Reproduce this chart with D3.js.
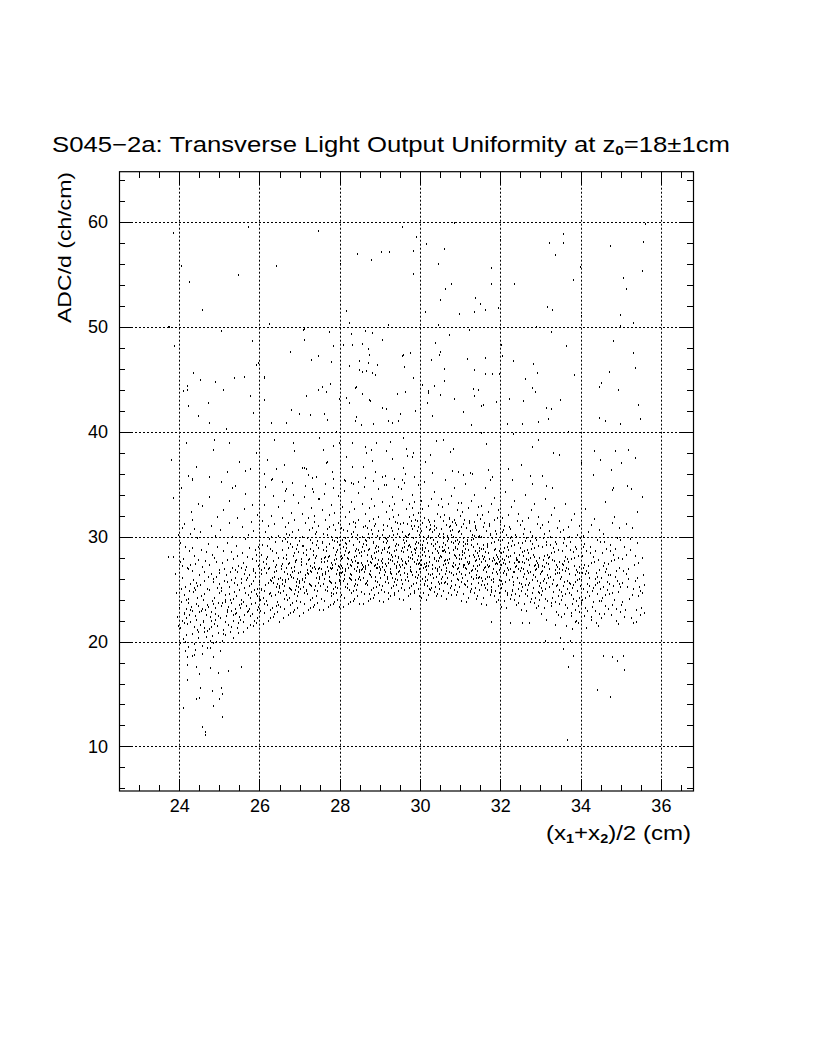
<!DOCTYPE html>
<html><head><meta charset="utf-8">
<script src="https://cdn.jsdelivr.net/npm/d3@7"></script>
<style>body{margin:0;background:#fff}text{font-family:"Liberation Sans",Arial,sans-serif;fill:#000}</style>
</head><body>
<svg id="c" width="816" height="1056"></svg>
<script>
// ---- axis / tick data ----
const xMajorTicks = [24, 26, 28, 30, 32, 34, 36];
const xTickLabels = ["24", "26", "28", "30", "32", "34", "36"];
const yMajorTicks = [10, 20, 30, 40, 50, 60];
const yTickLabels = ["10", "20", "30", "40", "50", "60"];
const xDomain = [22.5, 36.8];
const yDomain = [5.75, 64.8];

// ---- scatter data, flat x,y pairs ----
const highOutliers = [23.84,58.92,25.72,59.52,24.05,55.83,24.25,54.31,25.47,54.92,24.57,51.64,23.71,49.99,23.74,50.0,23.87,48.15,25.05,49.58,25.82,48.62,24.34,45.63,24.53,44.9,24.9,44.71,25.1,43.95,25.37,45.09,25.62,45.22,25.92,46.36,25.97,46.55,26.12,45.19,25.77,43.38,24.71,42.74,24.1,43.9,24.2,44.0,24.2,44.4,26.1,43.0,27.46,59.1,26.41,55.8,28.0,55.97,28.42,56.92,28.77,56.35,29.03,57.1,29.22,57.1,29.56,59.5,28.15,51.5,26.24,50.24,28.24,50.34,29.21,50.2,27.12,49.8,27.09,49.67,27.74,49.51,28.62,49.58,28.8,49.39,28.28,49.29,27.12,48.72,27.84,48.15,28.09,48.27,28.31,48.27,28.56,48.39,28.71,47.92,29.06,48.72,26.77,47.63,27.46,47.25,28.74,47.35,29.56,47.25,27.28,46.81,27.79,46.68,28.49,46.72,28.71,46.55,28.93,46.39,28.23,46.3,29.6,46.14,28.48,45.89,28.55,45.7,28.66,45.79,28.81,45.57,28.89,45.41,26.11,45.15,27.75,44.58,27.56,44.24,27.46,43.95,27.66,43.79,28.37,44.17,28.4,44.27,28.56,43.57,29.43,43.57,29.62,43.79,27.15,43.4,28.16,43.24,28.74,43.0,28.24,42.74,27.97,43.09,30.85,59.93,35.61,59.81,29.91,58.57,30.15,57.87,30.6,57.4,29.83,57.24,31.99,58.26,33.21,57.97,33.55,57.97,33.57,58.83,33.37,56.85,34.74,57.68,35.55,58.06,30.45,55.97,31.77,55.64,33.98,55.71,29.83,55.01,35.53,55.33,33.82,54.44,35.06,54.69,30.63,53.61,30.78,54.06,31.77,54.06,32.33,54.06,35.12,53.64,30.5,52.53,31.37,52.78,31.49,52.15,31.62,51.64,31.93,51.8,33.17,51.89,33.29,51.58,30.13,51.39,30.98,51.2,31.34,51.39,34.0,51.07,34.99,51.13,35.31,50.34,34.98,50.08,30.44,50.18,32.9,50.02,31.22,49.67,33.25,49.48,30.72,49.19,30.38,48.49,33.63,48.15,34.81,48.65,32.01,48.27,29.75,47.48,29.57,47.29,30.5,47.63,30.46,47.29,32.05,47.22,35.31,47.51,30.28,46.81,31.16,46.91,31.62,47.0,32.32,46.72,29.61,46.17,30.6,46.01,31.34,45.86,31.63,45.48,31.8,45.48,31.96,45.48,32.82,46.43,32.92,45.57,33.84,45.44,35.35,46.05,34.71,45.67,29.83,45.15,30.6,44.84,30.05,44.46,30.35,44.36,32.62,45.03,34.5,44.62,34.46,44.27,31.31,44.05,31.44,43.98,30.2,43.9,30.2,43.7,30.49,43.5,31.35,43.4,32.78,44.2,32.86,43.79,34.92,43.98,30.84,43.09,32.22,43.15,32.57,42.93,33.48,43.05,31.9,42.86,30.18,42.71,31.57,42.52,35.43,42.52];

const midOutliers = [24.22,42.45,24.72,42.71,24.46,41.5,24.75,40.86,25.83,41.81,26.78,42.07,26.98,41.66,27.26,41.57,27.6,41.66,26.65,40.8,27.69,41.12,28.39,41.05,28.41,41.43,28.52,40.64,28.75,42.93,28.23,42.71,29.06,42.23,29.14,42.14,29.5,41.66,26.28,40.86,28.83,40.71,29.21,41.02,29.31,40.8,29.46,41.02,25.16,40.23,27.91,39.97,27.98,38.9,24.18,38.89,24.87,39.2,25.24,38.9,24.85,38.26,26.37,39.2,26.83,38.9,26.85,38.16,27.48,39.43,27.58,38.26,27.82,38.64,28.31,38.9,28.64,38.57,28.9,38.9,28.77,38.26,29.25,39.02,29.57,39.37,23.8,37.3,23.85,33.65,23.72,28.05,24.42,36.66,24.33,35.49,24.31,35.39,24.74,35.71,25.32,34.6,25.39,34.85,25.2,36.19,25.49,37.14,25.65,36.28,25.76,36.44,25.92,38.0,26.18,37.3,26.29,35.39,26.42,36.42,26.57,35.23,26.66,34.51,27.05,36.51,27.11,36.51,27.2,35.84,27.3,34.51,27.42,35.71,27.48,33.61,27.69,37.14,27.84,35.52,28.1,35.39,28.28,35.08,28.45,35.23,28.58,36.66,28.89,36.19,29.14,34.92,29.06,35.71,29.36,35.52,29.56,35.39,29.52,34.51,29.58,36.51,30.29,41.53,31.06,41.91,31.27,40.64,32.17,40.7,32.53,40.7,32.94,40.96,33.18,41.18,31.53,42.45,33.13,42.23,33.25,42.14,34.46,41.27,34.62,41.05,34.98,40.74,35.48,41.18,35.42,42.55,29.87,41.98,29.58,39.37,30.4,39.11,30.58,39.2,30.83,38.35,31.52,39.85,31.65,38.8,32.32,39.76,32.78,38.57,32.93,39.2,33.32,37.94,33.46,37.78,33.68,39.94,34.34,38.16,34.48,37.3,34.86,38.16,35.0,36.99,35.17,38.26,35.36,37.52,29.83,37.94,29.67,37.69,30.12,37.14,30.94,36.19,31.08,35.87,31.24,36.1,31.7,36.35,31.74,35.39,32.2,36.42,32.74,35.78,32.51,36.83,33.03,35.78,33.15,34.82,34.02,36.99,34.3,35.87,34.75,36.35,34.77,34.44,34.81,34.6,35.15,34.85,35.25,34.51,35.52,33.8,35.4,32.37,34.62,33.33];

const lowOutliers = [24.14,19.12,24.2,18.54,24.32,18.61,24.37,18.71,24.57,18.8,24.76,19.37,25.01,19.12,24.85,18.49,24.2,17.75,24.42,17.53,24.76,17.44,24.96,16.96,25.21,17.18,25.54,17.53,24.49,16.87,24.2,16.32,24.52,15.53,24.81,15.27,25.03,15.53,24.49,14.58,24.42,14.51,24.99,14.54,25.07,14.96,24.09,13.62,24.85,13.87,25.06,12.77,24.56,11.81,24.64,11.34,24.64,11.08,33.57,19.28,33.8,18.64,33.68,17.53,34.56,18.58,34.79,18.49,34.91,18.13,35.06,18.64,35.09,17.28,34.41,15.37,34.72,14.67,33.67,10.6,33.11,20.04,33.48,20.3,33.73,20.1,29.75,23.07,31.76,21.9,32.24,21.76,32.54,21.8,32.71,21.8];

const bandA = [23.85,28.1,23.92,24.6,23.95,22.3,23.97,30.2,23.9,26.4,23.96,21.5,
24.02,21.3,24.05,23.8,24.08,26.1,24.03,29.4,24.12,22.7,24.15,25.2,24.1,27.9,24.18,20.6,24.21,24.1,24.24,28.6,24.06,30.8,24.27,21.9,24.3,23.3,24.33,26.7,24.36,19.8,24.39,22.4,24.42,25.6,24.45,29.9,24.48,20.9,24.04,25.0,24.07,22.0,24.13,31.2,24.16,23.1,24.19,27.0,24.22,19.5,24.25,24.8,24.28,30.3,24.31,22.9,24.34,25.9,24.37,21.4,24.4,27.4,24.43,23.6,24.46,20.3,24.49,26.3,24.01,27.6,24.09,20.2,24.11,24.4,24.14,29.0,24.2,21.7,24.23,26.9,24.26,23.0,24.29,32.4,24.32,20.7,24.35,24.7,24.38,28.2,24.41,22.1,24.44,25.3,24.47,33.1,24.0,23.2,24.06,27.2,24.17,24.0,24.24,22.5,24.31,28.9,24.39,24.9,24.46,23.4,24.12,21.8,24.28,25.5,24.36,30.7,24.44,21.1,24.05,34.6,24.21,35.8,24.33,31.6,24.47,27.8,24.03,19.9,24.18,22.2,24.26,27.3,24.4,19.2,24.15,20.0,24.49,22.8,
24.51,21.6,24.54,24.3,24.57,27.1,24.6,22.0,24.63,25.8,24.66,20.4,24.69,23.5,24.72,29.3,24.75,21.2,24.78,26.4,24.81,23.9,24.84,19.9,24.87,28.0,24.9,22.6,24.93,25.1,24.96,20.8,24.99,24.6,24.52,30.4,24.55,22.9,24.58,19.6,24.61,26.6,24.64,23.0,24.67,28.5,24.7,21.0,24.73,24.9,24.76,22.3,24.79,31.0,24.82,20.5,24.85,25.7,24.88,23.2,24.91,27.6,24.94,21.5,24.97,23.7,24.53,25.4,24.59,21.9,24.65,27.7,24.71,23.3,24.77,20.1,24.83,26.0,24.89,22.1,24.95,29.0,24.56,23.1,24.62,20.9,24.68,25.0,24.74,27.3,24.8,22.8,24.86,24.2,24.92,20.0,24.98,26.8,24.54,28.7,24.6,24.0,24.66,22.5,24.72,26.2,24.78,21.4,24.84,23.6,24.9,30.1,24.96,22.4,24.57,32.9,24.75,33.8,24.93,31.9,24.63,21.3,24.81,28.3,24.69,19.4,24.87,21.7,24.99,25.5,
25.01,22.2,25.04,25.1,25.07,27.5,25.1,20.7,25.13,23.8,25.16,26.3,25.19,29.4,25.22,21.6,25.25,24.5,25.28,22.9,25.31,27.0,25.34,20.3,25.37,25.6,25.4,23.1,25.43,28.2,25.46,21.8,25.49,24.9,25.02,30.6,25.05,23.4,25.08,21.1,25.11,26.9,25.14,24.0,25.17,22.4,25.2,27.8,25.23,25.2,25.26,20.9,25.29,23.7,25.32,30.0,25.35,22.0,25.38,26.1,25.41,24.3,25.44,21.3,25.47,27.2,25.03,24.8,25.09,28.6,25.15,21.9,25.21,23.3,25.27,26.6,25.33,24.1,25.39,22.6,25.45,25.4,25.06,20.1,25.12,25.8,25.18,23.0,25.24,31.3,25.3,21.4,25.36,24.7,25.42,29.1,25.48,22.3,25.0,26.5,25.1,32.5,25.2,22.8,25.3,28.5,25.4,26.8,25.5,23.5,25.05,35.2,25.25,33.4,25.45,31.8,25.15,24.4,25.35,27.9,25.13,20.6,25.41,22.7,25.28,25.9,25.47,20.8,
25.51,23.2,25.54,26.0,25.57,28.4,25.6,21.9,25.63,24.6,25.66,27.1,25.69,22.8,25.72,30.2,25.75,25.3,25.78,23.6,25.81,27.9,25.84,21.5,25.87,24.9,25.9,26.5,25.93,23.0,25.96,29.0,25.99,25.7,25.52,22.1,25.55,24.0,25.58,27.5,25.61,25.1,25.64,29.8,25.67,23.4,25.7,21.3,25.73,26.3,25.76,24.2,25.79,31.4,25.82,22.6,25.85,25.8,25.88,28.7,25.91,24.5,25.94,22.2,25.97,27.2,25.53,25.6,25.59,23.8,25.65,26.8,25.71,24.4,25.77,22.4,25.83,26.7,25.89,23.7,25.95,25.0,25.56,30.9,25.62,22.5,25.68,28.1,25.74,23.1,25.8,25.5,25.86,22.0,25.92,27.7,25.98,24.1,25.55,27.0,25.61,32.6,25.67,25.9,25.73,28.9,25.79,24.7,25.85,30.5,25.91,21.8,25.97,23.3,25.63,34.1,25.81,33.0,25.95,32.1,25.7,26.1,25.88,26.2,25.58,20.9,25.76,21.6,25.93,24.3,
26.01,24.0,26.04,26.8,26.07,29.2,26.1,22.7,26.13,25.4,26.16,27.9,26.19,23.5,26.22,31.0,26.25,25.9,26.28,24.3,26.31,28.6,26.34,22.3,26.37,26.2,26.4,27.3,26.43,23.8,26.46,30.1,26.49,25.1,26.02,22.9,26.05,25.0,26.08,27.6,26.11,24.8,26.14,30.4,26.17,23.9,26.2,22.0,26.23,27.0,26.26,24.6,26.29,32.0,26.32,23.2,26.35,26.6,26.38,29.5,26.41,25.2,26.44,22.8,26.47,28.0,26.03,26.4,26.09,24.2,26.15,27.4,26.21,25.6,26.27,23.0,26.33,27.7,26.39,24.4,26.45,26.0,26.06,31.5,26.12,23.6,26.18,29.1,26.24,24.5,26.3,26.1,26.36,22.6,26.42,28.4,26.48,25.3,26.05,28.3,26.11,33.0,26.17,26.5,26.23,29.8,26.29,25.8,26.35,31.2,26.41,23.4,26.47,24.7,26.13,34.7,26.31,35.5,26.45,32.8,26.2,26.9,26.38,27.1,26.08,21.7,26.26,22.2,26.43,25.5,26.1,36.0,26.34,33.9,26.48,21.9,26.27,28.8,
26.51,24.6,26.54,27.2,26.57,29.6,26.6,23.1,26.63,25.9,26.66,28.3,26.69,24.0,26.72,31.3,26.75,26.3,26.78,24.9,26.81,29.0,26.84,22.8,26.87,26.7,26.9,27.8,26.93,24.3,26.96,30.6,26.99,25.6,26.52,23.3,26.55,25.5,26.58,28.0,26.61,25.3,26.64,30.9,26.67,24.4,26.7,22.5,26.73,27.5,26.76,25.0,26.79,32.3,26.82,23.7,26.85,27.1,26.88,29.9,26.91,25.7,26.94,23.2,26.97,28.5,26.53,26.9,26.59,24.8,26.65,27.9,26.71,26.0,26.77,23.5,26.83,28.2,26.89,24.9,26.95,26.5,26.56,31.8,26.62,24.1,26.68,29.5,26.74,25.1,26.8,26.6,26.86,23.0,26.92,28.8,26.98,25.8,26.55,28.7,26.61,33.4,26.67,27.0,26.73,30.2,26.79,26.2,26.85,31.6,26.91,23.9,26.97,25.2,26.63,34.4,26.81,35.1,26.95,33.2,26.7,27.4,26.88,27.6,26.58,22.2,26.76,22.7,26.93,26.0,26.6,36.8,26.84,34.0,26.98,22.4,26.77,29.3,26.52,26.1,26.69,26.4,26.87,24.5,26.94,29.2,26.64,25.7,26.82,30.4];

const bandB = [27.01,25.0,27.04,27.6,27.07,30.0,27.1,23.6,27.13,26.3,27.16,28.7,27.19,24.5,27.22,31.8,27.25,26.7,27.28,25.3,27.31,29.4,27.34,23.3,27.37,27.1,27.4,28.2,27.43,24.8,27.46,31.0,27.49,26.0,27.02,23.8,27.05,26.0,27.08,28.4,27.11,25.7,27.14,31.3,27.17,24.9,27.2,23.0,27.23,27.9,27.26,25.4,27.29,32.7,27.32,24.2,27.35,27.5,27.38,30.3,27.41,26.1,27.44,23.7,27.47,28.9,27.03,27.3,27.09,25.2,27.15,28.3,27.21,26.4,27.27,24.0,27.33,28.6,27.39,25.3,27.45,26.9,27.06,32.2,27.12,24.6,27.18,29.9,27.24,25.5,27.3,27.0,27.36,23.5,27.42,29.2,27.48,26.2,27.05,29.1,27.11,33.8,27.17,27.4,27.23,30.6,27.29,26.6,27.35,32.0,27.41,24.3,27.47,25.6,27.13,34.8,27.31,35.6,27.45,33.6,27.2,27.8,27.38,28.0,27.08,22.7,27.26,23.2,27.43,26.5,27.16,36.5,27.34,34.3,27.48,23.0,27.27,29.7,27.02,26.6,27.19,26.8,27.37,24.9,27.44,29.6,27.14,26.1,27.32,30.8,
27.51,25.3,27.54,27.9,27.57,30.3,27.6,23.9,27.63,26.6,27.66,29.0,27.69,24.8,27.72,32.1,27.75,27.0,27.78,25.6,27.81,29.7,27.84,23.6,27.87,27.4,27.9,28.5,27.93,25.1,27.96,31.3,27.99,26.3,27.52,24.1,27.55,26.3,27.58,28.7,27.61,26.0,27.64,31.6,27.67,25.2,27.7,23.3,27.73,28.2,27.76,25.7,27.79,33.0,27.82,24.5,27.85,27.8,27.88,30.6,27.91,26.4,27.94,24.0,27.97,29.2,27.53,27.6,27.59,25.5,27.65,28.6,27.71,26.7,27.77,24.3,27.83,28.9,27.89,25.6,27.95,27.2,27.56,32.5,27.62,24.9,27.68,30.2,27.74,25.8,27.8,27.3,27.86,23.8,27.92,29.5,27.98,26.5,27.55,29.4,27.61,34.1,27.67,27.7,27.73,30.9,27.79,26.9,27.85,32.3,27.91,24.6,27.97,25.9,27.63,35.0,27.81,36.2,27.95,33.9,27.7,28.1,27.88,28.3,27.58,23.0,27.76,23.5,27.93,26.8,27.66,37.0,27.84,34.6,27.98,23.3,27.77,30.0,27.52,26.9,27.69,27.1,27.87,25.2,27.94,29.9,27.64,26.4,27.82,31.1,27.6,28.0,27.78,27.5,27.9,27.9,27.72,29.3,
28.01,25.6,28.04,28.2,28.07,30.6,28.1,24.2,28.13,26.9,28.16,29.3,28.19,25.1,28.22,32.4,28.25,27.3,28.28,25.9,28.31,30.0,28.34,23.9,28.37,27.7,28.4,28.8,28.43,25.4,28.46,31.6,28.49,26.6,28.02,24.4,28.05,26.6,28.08,29.0,28.11,26.3,28.14,31.9,28.17,25.5,28.2,23.6,28.23,28.5,28.26,26.0,28.29,33.3,28.32,24.8,28.35,28.1,28.38,30.9,28.41,26.7,28.44,24.3,28.47,29.5,28.03,27.9,28.09,25.8,28.15,28.9,28.21,27.0,28.27,24.6,28.33,29.2,28.39,25.9,28.45,27.5,28.06,32.8,28.12,25.2,28.18,30.5,28.24,26.1,28.3,27.6,28.36,24.1,28.42,29.8,28.48,26.8,28.05,29.7,28.11,34.4,28.17,28.0,28.23,31.2,28.29,27.2,28.35,32.6,28.41,24.9,28.47,26.2,28.13,35.3,28.31,36.6,28.45,34.2,28.2,28.4,28.38,28.6,28.08,23.3,28.26,23.8,28.43,27.1,28.16,37.6,28.34,35.0,28.48,23.6,28.27,30.3,28.02,27.2,28.19,27.4,28.37,25.5,28.44,30.2,28.14,26.7,28.32,31.4,28.1,28.3,28.28,27.8,28.4,28.2,28.22,29.6,28.06,27.0,28.25,26.4,28.46,28.7,28.35,26.9,28.12,29.4,
28.51,25.9,28.54,28.5,28.57,30.9,28.6,24.5,28.63,27.2,28.66,29.6,28.69,25.4,28.72,32.7,28.75,27.6,28.78,26.2,28.81,30.3,28.84,24.2,28.87,28.0,28.9,29.1,28.93,25.7,28.96,31.9,28.99,26.9,28.52,24.7,28.55,26.9,28.58,29.3,28.61,26.6,28.64,32.2,28.67,25.8,28.7,23.9,28.73,28.8,28.76,26.3,28.79,33.6,28.82,25.1,28.85,28.4,28.88,31.2,28.91,27.0,28.94,24.6,28.97,29.8,28.53,28.2,28.59,26.1,28.65,29.2,28.71,27.3,28.77,24.9,28.83,29.5,28.89,26.2,28.95,27.8,28.56,33.1,28.62,25.5,28.68,30.8,28.74,26.4,28.8,27.9,28.86,24.4,28.92,30.1,28.98,27.1,28.55,30.0,28.61,34.7,28.67,28.3,28.73,31.5,28.79,27.5,28.85,32.9,28.91,25.2,28.97,26.5,28.63,35.6,28.81,37.2,28.95,34.5,28.7,28.7,28.88,28.9,28.58,23.6,28.76,24.1,28.93,27.4,28.66,38.0,28.84,35.3,28.98,23.9,28.77,30.6,28.52,27.5,28.69,27.7,28.87,25.8,28.94,30.5,28.64,27.0,28.82,31.7,28.6,28.6,28.78,28.1,28.9,28.5,28.72,29.9,28.56,27.3,28.75,26.7,28.96,29.0,28.85,27.2,28.62,29.7,
29.01,26.1,29.04,28.7,29.07,31.1,29.1,24.7,29.13,27.4,29.16,29.8,29.19,25.6,29.22,32.9,29.25,27.8,29.28,26.4,29.31,30.5,29.34,24.4,29.37,28.2,29.4,29.3,29.43,25.9,29.46,32.1,29.49,27.1,29.02,24.9,29.05,27.1,29.08,29.5,29.11,26.8,29.14,32.4,29.17,26.0,29.2,24.1,29.23,29.0,29.26,26.5,29.29,33.8,29.32,25.3,29.35,28.6,29.38,31.4,29.41,27.2,29.44,24.8,29.47,30.0,29.03,28.4,29.09,26.3,29.15,29.4,29.21,27.5,29.27,25.1,29.33,29.7,29.39,26.4,29.45,28.0,29.06,33.3,29.12,25.7,29.18,31.0,29.24,26.6,29.3,28.1,29.36,24.6,29.42,30.3,29.48,27.3,29.05,30.2,29.11,34.9,29.17,28.5,29.23,31.7,29.29,27.7,29.35,33.1,29.41,25.4,29.47,26.7,29.13,35.8,29.31,37.4,29.45,34.7,29.2,28.9,29.38,29.1,29.08,23.8,29.26,24.3,29.43,27.6,29.16,38.2,29.34,35.5,29.48,24.1,29.27,30.8,29.02,27.7,29.19,27.9,29.37,26.0,29.44,30.7,29.14,27.2,29.32,31.9,29.1,28.8,29.28,28.3,29.4,28.7,29.22,30.1,29.06,27.5,29.25,26.9,29.46,29.2,29.35,27.4,29.12,29.9,29.3,32.5,29.18,26.2,29.42,31.3,29.04,25.3,
29.51,26.3,29.54,28.9,29.57,31.3,29.6,24.9,29.63,27.6,29.66,30.0,29.69,25.8,29.72,33.1,29.75,28.0,29.78,26.6,29.81,30.7,29.84,24.6,29.87,28.4,29.9,29.5,29.93,26.1,29.96,32.3,29.99,27.3,29.52,25.1,29.55,27.3,29.58,29.7,29.61,27.0,29.64,32.6,29.67,26.2,29.7,24.3,29.73,29.2,29.76,26.7,29.79,34.0,29.82,25.5,29.85,28.8,29.88,31.6,29.91,27.4,29.94,25.0,29.97,30.2,29.53,28.6,29.59,26.5,29.65,29.6,29.71,27.7,29.77,25.3,29.83,29.9,29.89,26.6,29.95,28.2,29.56,33.5,29.62,25.9,29.68,31.2,29.74,26.8,29.8,28.3,29.86,24.8,29.92,30.5,29.98,27.5,29.55,30.4,29.61,35.1,29.67,28.7,29.73,31.9,29.79,27.9,29.85,33.3,29.91,25.6,29.97,26.9,29.63,36.0,29.81,37.6,29.95,34.9,29.7,29.1,29.88,29.3,29.58,24.0,29.76,24.5,29.93,27.8,29.66,38.4,29.84,35.7,29.98,24.3,29.77,31.0,29.52,27.9,29.69,28.1,29.87,26.2,29.94,30.9,29.64,27.4,29.82,32.1,29.6,29.0,29.78,28.5,29.9,28.9,29.72,30.3,29.56,27.7,29.75,27.1,29.96,29.4,29.85,27.6,29.62,30.1,29.8,32.7,29.68,26.4,29.92,31.5,29.54,25.5];

const bandC = [30.02,27.8,30.37,25.2,30.14,30.9,30.45,28.4,30.08,24.6,30.29,26.9,30.41,32.2,30.19,28.6,30.04,26.0,30.33,29.7,30.11,25.5,30.48,27.1,30.23,31.4,30.06,29.2,30.39,24.3,30.16,27.5,30.27,33.6,30.01,25.8,30.44,30.1,30.21,26.4,30.35,28.0,30.09,31.8,30.47,25.0,30.13,28.9,30.31,27.3,30.25,24.9,30.03,30.5,30.42,26.7,30.18,29.4,30.36,31.0,30.07,27.0,30.28,25.6,30.46,29.0,30.12,26.2,30.34,34.3,30.22,28.1,30.05,32.6,30.4,27.7,30.17,25.3,30.3,30.4,30.1,28.5,30.43,24.5,30.26,29.9,30.15,26.8,30.38,28.8,30.02,24.2,30.49,31.9,30.2,27.2,30.32,26.1,30.08,29.6,30.45,33.0,30.24,30.7,30.11,35.2,30.36,27.9,30.04,28.3,30.27,25.1,30.41,28.6,30.19,32.9,30.14,24.0,30.47,26.4,30.06,31.3,30.33,29.1,30.23,27.6,30.39,30.8,30.01,26.6,30.29,36.1,30.16,29.8,30.44,25.7,30.09,27.4,30.35,24.7,30.21,31.6,30.12,28.2,30.46,28.0,30.26,26.3,30.03,33.4,30.38,27.0,30.18,25.9,30.31,28.4,30.07,30.0,30.42,29.5,30.25,37.8,30.13,27.1,30.48,30.3,30.2,24.4,30.34,31.5,30.05,28.7,30.4,26.2,30.28,29.3,30.1,25.4,30.22,30.6,
30.53,28.1,30.88,25.4,30.64,31.1,30.96,27.9,30.58,24.8,30.79,27.2,30.91,32.5,30.69,28.9,30.54,26.2,30.83,30.0,30.61,25.7,30.98,27.4,30.73,31.7,30.56,29.4,30.89,24.4,30.66,27.8,30.77,33.9,30.51,26.0,30.94,30.4,30.71,26.6,30.85,28.3,30.59,32.1,30.97,25.2,30.63,29.2,30.81,27.5,30.75,25.1,30.52,30.7,30.92,26.9,30.68,29.6,30.86,31.3,30.57,27.3,30.78,25.8,30.95,29.3,30.62,26.4,30.84,34.6,30.72,28.4,30.55,32.8,30.9,28.0,30.67,25.5,30.8,30.6,30.6,28.7,30.93,24.7,30.76,30.2,30.65,27.0,30.87,29.0,30.52,24.3,30.99,32.0,30.7,27.5,30.82,26.3,30.58,29.9,30.95,33.2,30.74,31.0,30.61,35.4,30.86,28.2,30.54,28.6,30.77,25.3,30.91,28.8,30.69,33.1,30.64,24.1,30.97,26.6,30.56,31.5,30.83,29.4,30.73,27.9,30.89,31.1,30.51,26.8,30.79,36.3,30.66,30.1,30.94,25.9,30.59,27.7,30.85,24.9,30.71,31.8,30.62,28.5,30.96,28.3,30.76,26.5,30.53,33.6,30.88,27.3,30.68,26.1,30.81,28.7,30.57,30.3,30.92,29.7,30.75,38.1,30.63,27.4,30.98,30.5,30.7,24.6,30.84,31.6,30.55,29.0,30.9,26.4,30.78,29.5,30.6,25.6,30.72,30.9,
31.02,27.9,31.37,25.1,31.14,30.8,31.45,28.2,31.08,24.5,31.29,26.8,31.41,32.1,31.19,28.7,31.04,26.1,31.33,29.8,31.11,25.4,31.48,27.3,31.23,31.3,31.06,29.1,31.39,24.1,31.16,27.6,31.27,33.4,31.01,25.7,31.44,30.0,31.21,26.5,31.35,28.1,31.09,31.6,31.47,24.9,31.13,28.8,31.31,27.2,31.25,24.7,31.03,30.3,31.42,26.7,31.18,29.3,31.36,30.8,31.07,27.1,31.28,25.5,31.46,28.9,31.12,26.3,31.34,34.0,31.22,28.2,31.05,32.4,31.4,27.8,31.17,25.2,31.3,30.2,31.1,28.4,31.43,24.3,31.26,29.7,31.15,26.9,31.38,28.6,31.02,23.9,31.49,31.7,31.2,27.4,31.32,26.0,31.08,29.5,31.45,32.8,31.24,30.5,31.11,35.0,31.36,27.7,31.04,28.5,31.27,25.0,31.41,28.4,31.19,32.7,31.14,23.8,31.47,26.2,31.06,31.2,31.33,29.0,31.23,27.5,31.39,30.6,31.01,26.4,31.29,36.0,31.16,29.6,31.44,25.6,31.09,27.3,31.35,24.6,31.21,31.5,31.12,28.0,31.46,27.9,31.26,26.2,31.03,33.2,31.38,26.9,31.18,25.8,31.31,28.3,31.07,29.9,31.42,29.3,31.13,27.0,31.48,30.1,31.2,24.2,31.34,31.4,31.05,28.6,31.4,26.1,31.28,29.2,
31.52,27.6,31.87,24.8,31.64,30.5,31.95,27.9,31.58,24.2,31.79,26.5,31.91,31.8,31.69,28.4,31.54,25.8,31.83,29.5,31.61,25.1,31.98,27.0,31.73,31.0,31.56,28.8,31.89,23.8,31.66,27.3,31.77,33.1,31.51,25.4,31.94,29.7,31.71,26.2,31.85,27.8,31.59,31.3,31.97,24.6,31.63,28.5,31.81,26.9,31.75,24.4,31.53,30.0,31.92,26.4,31.68,29.0,31.86,30.5,31.57,26.8,31.78,25.2,31.96,28.6,31.62,26.0,31.84,33.7,31.72,27.9,31.55,32.1,31.9,27.5,31.67,24.9,31.8,29.9,31.6,28.1,31.93,24.0,31.76,29.4,31.65,26.6,31.88,28.3,31.52,23.6,31.99,31.4,31.7,27.1,31.82,25.7,31.58,29.2,31.95,32.5,31.74,30.2,31.61,34.6,31.86,27.4,31.54,28.2,31.77,24.7,31.91,28.1,31.69,32.4,31.64,23.5,31.97,25.9,31.56,30.9,31.83,28.7,31.73,27.2,31.89,30.3,31.51,26.1,31.79,35.7,31.66,29.3,31.94,25.3,31.59,27.0,31.85,24.3,31.71,31.2,31.62,27.7,31.96,27.6,31.76,25.9,31.53,32.9,31.88,26.6,31.68,25.5,31.81,28.0,
32.02,27.3,32.37,24.5,32.14,30.2,32.45,27.6,32.08,23.9,32.29,26.2,32.41,31.5,32.19,28.1,32.04,25.5,32.33,29.2,32.11,24.8,32.48,26.7,32.23,30.7,32.06,28.5,32.39,23.5,32.16,27.0,32.27,32.8,32.01,25.1,32.44,29.4,32.21,25.9,32.35,27.5,32.09,31.0,32.47,24.3,32.13,28.2,32.31,26.6,32.25,24.1,32.03,29.7,32.42,26.1,32.18,28.7,32.36,30.2,32.07,26.5,32.28,24.9,32.46,28.3,32.12,25.7,32.34,33.4,32.22,27.6,32.05,31.8,32.4,27.2,32.17,24.6,32.3,29.6,32.1,27.8,32.43,23.7,32.26,29.1,32.15,26.3,32.38,28.0,32.02,23.3,32.49,31.1,32.2,26.8,32.32,25.4,32.08,28.9,32.45,32.2,32.24,29.9,32.11,34.3,32.36,27.1,32.04,27.9,32.27,24.4,32.41,27.8,32.19,32.1,32.14,23.2,32.47,25.6,32.06,30.6,32.33,28.4,32.23,26.9,32.39,30.0,32.01,25.8,32.29,35.4,32.16,29.0,32.44,25.0,32.09,26.7,32.35,24.0,32.21,30.9,32.12,27.4,
32.52,27.0,32.87,24.2,32.64,29.9,32.95,27.3,32.58,23.6,32.79,25.9,32.91,31.2,32.69,27.8,32.54,25.2,32.83,28.9,32.61,24.5,32.98,26.4,32.73,30.4,32.56,28.2,32.89,23.2,32.66,26.7,32.77,32.5,32.51,24.8,32.94,29.1,32.71,25.6,32.85,27.2,32.59,30.7,32.97,24.0,32.63,27.9,32.81,26.3,32.75,23.8,32.53,29.4,32.92,25.8,32.68,28.4,32.86,29.9,32.57,26.2,32.78,24.6,32.96,28.0,32.62,25.4,32.84,33.1,32.72,27.3,32.55,31.5,32.9,26.9,32.67,24.3,32.8,29.3,32.6,27.5,32.93,23.4,32.76,28.8,32.65,26.0,32.88,27.7,32.52,23.0,32.99,30.8,32.7,26.5,32.82,25.1,32.58,28.6,32.95,31.9,32.74,29.6,32.61,34.0,32.86,26.8,32.54,27.6,32.77,24.1,32.91,27.5,32.69,31.8,32.64,22.9,32.97,25.3,32.56,30.3,32.83,28.1,32.73,26.6,32.89,29.7,32.51,25.5,32.79,35.0,32.66,28.7,32.94,24.7,32.59,26.4,32.85,23.7];

const bandD = [33.02,26.6,33.37,23.8,33.14,29.5,33.45,26.9,33.08,23.2,33.29,25.5,33.41,30.8,33.19,27.4,33.04,24.8,33.33,28.5,33.11,24.1,33.48,26.0,33.23,30.0,33.06,27.8,33.39,22.8,33.16,26.3,33.27,32.1,33.01,24.4,33.44,28.7,33.21,25.2,33.35,26.8,33.09,30.3,33.47,23.6,33.13,27.5,33.31,25.9,33.25,23.4,33.03,29.0,33.42,25.4,33.18,28.0,33.36,29.5,33.07,25.8,33.28,24.2,33.46,27.6,33.12,25.0,33.34,32.7,33.22,26.9,33.05,31.1,33.4,26.5,33.17,23.9,33.3,28.9,33.1,27.1,33.43,22.5,33.26,28.4,33.15,25.6,33.38,27.3,33.02,22.6,33.49,30.4,33.2,26.1,33.32,24.7,33.08,28.2,33.45,31.5,33.24,29.2,33.11,33.6,33.36,26.4,33.04,27.2,33.27,23.7,33.41,27.1,33.19,31.4,33.14,22.1,33.47,24.9,33.06,29.9,33.33,27.7,33.23,26.2,33.39,29.3,33.01,25.1,33.29,34.6,33.16,28.3,33.44,24.3,33.09,26.0,33.35,21.6,33.21,30.5,
33.52,26.2,33.87,23.0,33.64,29.1,33.95,26.0,33.58,22.6,33.79,25.1,33.91,30.2,33.69,26.9,33.54,24.3,33.83,28.0,33.61,23.5,33.98,25.3,33.73,29.5,33.56,27.3,33.89,22.0,33.66,25.8,33.77,31.6,33.51,24.0,33.94,28.2,33.71,24.6,33.85,26.3,33.59,29.8,33.97,22.8,33.63,27.0,33.81,25.4,33.75,22.7,33.53,28.6,33.92,24.8,33.68,27.6,33.86,29.0,33.57,25.3,33.78,23.6,33.96,27.1,33.62,24.5,33.84,32.2,33.72,26.4,33.55,30.6,33.9,25.9,33.67,23.2,33.8,28.5,33.6,26.7,33.93,21.8,33.76,27.9,33.65,25.0,33.88,26.8,33.52,22.3,33.99,29.9,33.7,25.6,33.82,24.1,33.58,27.7,33.95,31.0,33.74,28.7,33.61,33.1,33.86,25.7,33.54,26.8,33.77,22.4,33.91,26.6,33.69,30.9,33.64,21.5,33.97,24.2,33.56,29.4,33.83,27.2,33.73,25.5,33.89,28.8,33.51,24.7,33.79,21.2,33.66,27.9,33.94,23.4,33.59,25.7,33.85,21.9,33.71,30.0,33.62,28.1,33.96,26.5,33.76,24.4,33.53,27.4,33.88,23.9,
34.02,25.9,34.37,22.9,34.14,28.6,34.45,25.7,34.08,22.4,34.29,24.8,34.41,29.7,34.19,26.5,34.04,24.0,34.33,27.6,34.11,23.2,34.48,25.0,34.23,29.0,34.06,27.0,34.39,21.8,34.16,25.5,34.27,31.1,34.01,23.7,34.44,27.8,34.21,24.3,34.35,26.0,34.09,29.3,34.47,22.6,34.13,26.7,34.31,25.1,34.25,22.3,34.03,28.2,34.42,24.5,34.18,27.2,34.36,28.6,34.07,25.0,34.28,23.3,34.46,26.8,34.12,24.2,34.34,31.7,34.22,26.1,34.05,30.1,34.4,25.6,34.17,22.9,34.3,28.1,34.1,26.4,34.43,21.5,34.26,27.5,34.15,24.7,34.38,26.5,34.02,22.0,34.49,29.5,34.2,25.3,34.32,23.8,34.08,27.3,34.45,30.6,34.24,28.4,34.11,32.6,34.36,25.4,34.04,26.5,34.27,22.1,34.41,26.2,34.19,30.4,34.14,21.3,34.47,23.9,34.06,29.0,
34.52,26.1,34.87,23.1,34.64,28.8,34.95,25.5,34.58,22.6,34.79,24.6,34.91,29.9,34.69,26.3,34.54,24.2,34.83,27.8,34.61,23.4,34.98,25.2,34.73,29.2,34.56,27.2,34.89,22.0,34.66,25.7,34.77,31.3,34.51,23.9,34.94,28.0,34.71,24.5,34.85,26.2,34.59,29.5,34.97,22.8,34.63,26.9,34.81,25.3,34.75,22.5,34.53,28.4,34.92,24.7,34.68,27.4,34.86,28.8,34.57,25.2,34.78,23.5,34.96,27.0,34.62,24.4,34.84,31.9,34.72,26.3,34.55,30.3,34.9,25.8,34.67,23.1,34.8,28.3,34.6,26.6,34.93,21.7,34.76,27.7,34.65,24.9,34.88,26.7,34.52,22.2,34.99,29.7,34.7,25.5,34.82,24.0,34.58,27.5,34.95,30.8,34.74,28.6,
35.02,25.6,35.37,23.0,35.14,28.3,35.45,25.2,35.08,22.3,35.29,24.4,35.41,29.4,35.19,26.0,35.04,23.8,35.33,27.3,35.11,23.0,35.48,24.8,35.23,28.7,35.06,26.7,35.39,21.9,35.16,25.2,35.27,30.8,35.01,23.5,35.44,27.5,35.21,24.1,35.35,25.8,35.09,29.0,35.47,22.5,35.13,26.4,35.31,25.0,35.25,22.2,35.03,27.9,35.42,24.3,35.18,26.9,35.36,28.2,35.52,24.6,35.55,26.3,35.5,23.2,35.58,25.4,35.53,28.0,35.57,22.7,35.12,31.2,35.3,21.8,35.22,29.8,35.4,26.1];

const bandCore = [26.57,27.4,26.83,26.1,26.71,28.9,26.96,24.7,26.64,29.8,26.88,27.7,27.07,25.9,27.33,28.3,27.18,26.5,27.42,30.4,27.26,27.2,27.09,29.1,27.47,25.6,27.38,26.9,27.61,27.6,27.84,25.0,27.56,29.5,27.72,26.2,27.93,28.7,27.68,30.7,27.81,27.0,27.99,25.8,28.06,28.0,28.27,26.3,28.14,29.9,28.43,27.5,28.35,25.3,28.02,30.8,28.48,28.4,28.21,27.9,28.39,31.3,28.11,26.0,28.59,27.1,28.83,29.4,28.66,25.6,28.94,28.6,28.71,30.3,28.52,26.8,28.89,27.3,28.77,28.2,28.98,25.4,28.62,31.0,29.04,27.9,29.29,26.1,29.17,29.6,29.46,28.1,29.36,25.7,29.08,30.6,29.41,27.0,29.22,28.4,29.49,31.2,29.13,26.6,29.58,28.5,29.81,26.3,29.69,30.2,29.94,27.4,29.74,29.0,29.53,25.9,29.87,28.7,29.63,27.5,29.99,30.0,29.77,31.5,30.06,28.9,30.31,26.4,30.19,30.1,30.44,27.7,30.37,29.3,30.12,25.8,30.49,28.2,30.24,31.1,30.03,27.3,30.41,26.9,30.57,28.6,30.82,27.1,30.69,29.8,30.93,26.0,30.74,30.5,30.61,27.8,30.88,28.9,30.53,25.6,30.97,29.5,30.79,31.4,31.04,28.3,31.28,26.7,31.16,29.7,31.43,27.2,31.34,30.1,31.09,25.5,31.47,28.6,31.21,27.6,31.02,30.9,31.39,26.3,31.56,27.9,31.81,26.0,31.68,29.2,31.92,27.4,31.74,30.3,31.59,25.4,31.87,28.8,31.63,27.1,31.98,29.6,31.77,24.9,32.07,27.5,32.32,25.7,32.18,29.4,32.43,26.9,32.25,28.2,32.04,30.4,32.38,27.8,32.13,26.4,32.49,28.9,32.29,24.8,32.56,26.9,32.81,28.3,32.68,25.4,32.93,27.1,32.62,29.6,32.87,26.2,32.74,28.0,32.97,24.6,33.05,26.7,33.22,28.1,33.38,25.3,33.14,29.2,33.46,26.5,33.29,27.8,
27.03,27.9,27.15,24.8,27.27,28.8,27.36,31.4,27.49,27.0,27.55,26.4,27.64,28.1,27.77,24.6,27.86,29.6,27.97,27.1,28.04,26.5,28.13,28.6,28.24,24.9,28.33,30.4,28.46,26.0,28.55,29.0,28.64,26.9,28.73,24.5,28.86,31.0,28.92,27.0,29.01,26.8,29.11,28.9,29.19,24.6,29.32,30.2,29.44,26.6,29.55,27.3,29.61,29.4,29.72,25.1,29.84,31.0,29.95,26.3,30.01,29.2,30.14,27.2,30.22,25.0,30.34,30.6,30.47,25.5,30.56,30.0,30.64,26.7,30.77,24.4,30.86,29.6,30.95,27.0,31.07,27.3,31.13,29.3,31.25,24.8,31.37,31.0,31.45,26.1,31.53,28.8,31.66,26.2,31.79,27.7,31.84,31.6,31.96,26.8,32.02,28.4,32.16,24.4,32.27,30.0,32.35,26.6,32.46,27.6,32.54,28.5,32.67,24.9,32.79,30.1,32.86,27.3,32.98,25.6,26.55,25.9,26.67,30.3,26.79,27.0,26.92,25.3,26.61,26.6,26.74,24.2,26.86,28.4,26.99,29.6,25.62,26.4,25.78,24.7,25.91,28.3,25.53,23.6,25.84,26.9,25.71,22.9,26.04,24.9,26.19,28.1,26.33,25.6,26.47,23.5,26.12,27.0,26.28,30.0,26.41,26.7,25.06,23.7,25.19,25.7,25.33,22.5,25.44,26.6,25.27,24.0,24.62,24.5,24.78,22.0,24.91,26.2,24.23,23.7,24.37,25.1,24.13,22.6,24.45,24.2];

function toPoints(flat) { const r = []; for (let i = 0; i + 1 < flat.length; i += 2) r.push([flat[i], flat[i + 1]]); return r; }
const points = [highOutliers, midOutliers, lowOutliers, bandA, bandB, bandC, bandD, bandCore].flatMap(toPoints);

// ---- layout ----
const svg = d3.select("#c");
svg.append("rect").attr("width", 816).attr("height", 1056).attr("fill", "#fff");
const L = 119, R = 693, T = 171.7, B = 791;
const x = d3.scaleLinear().domain(xDomain).range([L, R]);
const y = d3.scaleLinear().domain(yDomain).range([B, T]);

// grid
const grid = svg.append("g").attr("stroke", "#000").attr("stroke-width", 1).attr("stroke-dasharray", "2,2");
grid.selectAll(".gx").data(xMajorTicks).join("line")
  .attr("x1", d => Math.round(x(d)) + 0.5).attr("x2", d => Math.round(x(d)) + 0.5).attr("y1", T).attr("y2", B);
grid.selectAll(".gy").data(yMajorTicks).join("line")
  .attr("y1", d => Math.round(y(d)) + 0.5).attr("y2", d => Math.round(y(d)) + 0.5).attr("x1", L).attr("x2", R);

// points
svg.append("g").selectAll("rect").data(points).join("rect")
  .attr("x", d => Math.round(x(d[0])))
  .attr("y", d => Math.round(y(d[1])) - 1)
  .attr("width", 1).attr("height", 2).attr("fill", "#000")
  .attr("shape-rendering", "crispEdges");

// axes (ticks inward on all four sides)
const xMinor = d3.range(23, 36.8, 0.5).filter(v => !xMajorTicks.includes(v));
const yMinor = d3.range(6, 64.8, 2).filter(v => !yMajorTicks.includes(v));
function styleAxis(g) { g.select(".domain").remove(); g.selectAll("line").attr("stroke", "#000").attr("shape-rendering", "crispEdges"); }

svg.append("g").attr("transform", `translate(0,${B})`)
  .call(d3.axisBottom(x).tickValues(xMajorTicks).tickSize(-12).tickPadding(8).tickFormat((d, i) => xTickLabels[i])).call(styleAxis);
svg.append("g").attr("transform", `translate(0,${B})`).call(d3.axisBottom(x).tickValues(xMinor).tickSize(-6).tickFormat("")).call(styleAxis);
svg.append("g").attr("transform", `translate(0,${T})`).call(d3.axisTop(x).tickValues(xMajorTicks).tickSize(-12).tickFormat("")).call(styleAxis);
svg.append("g").attr("transform", `translate(0,${T})`).call(d3.axisTop(x).tickValues(xMinor).tickSize(-6).tickFormat("")).call(styleAxis);
svg.append("g").attr("transform", `translate(${L},0)`)
  .call(d3.axisLeft(y).tickValues(yMajorTicks).tickSize(-12).tickPadding(11).tickFormat((d, i) => yTickLabels[i])).call(styleAxis);
svg.append("g").attr("transform", `translate(${L},0)`).call(d3.axisLeft(y).tickValues(yMinor).tickSize(-6).tickFormat("")).call(styleAxis);
svg.append("g").attr("transform", `translate(${R},0)`).call(d3.axisRight(y).tickValues(yMajorTicks).tickSize(-12).tickFormat("")).call(styleAxis);
svg.append("g").attr("transform", `translate(${R},0)`).call(d3.axisRight(y).tickValues(yMinor).tickSize(-6).tickFormat("")).call(styleAxis);
svg.selectAll(".tick text").attr("font-size", 18).attr("font-family", "'Liberation Sans',Arial,sans-serif").attr("fill", "#000");

// frame
svg.append("rect").attr("x", L + 0.5).attr("y", T).attr("width", R - L).attr("height", B - T)
  .attr("fill", "none").attr("stroke", "#000").attr("stroke-width", 1.2);

// title
const t = svg.append("text").attr("x", 52).attr("y", 152).attr("font-size", 22)
  .attr("textLength", 678).attr("lengthAdjust", "spacingAndGlyphs");
t.append("tspan").text("S045\u22122a: Transverse Light Output Uniformity at z");
t.append("tspan").attr("font-size", 13).attr("dy", 3).attr("font-weight", "bold").text("0");
t.append("tspan").attr("dy", -3).text("=18\u00b11cm");

// y label
svg.append("text").attr("transform", "translate(71,172) rotate(-90)").attr("text-anchor", "end")
  .attr("font-size", 18).attr("textLength", 151).attr("lengthAdjust", "spacingAndGlyphs").text("ADC/d (ch/cm)");

// x label
const xl = svg.append("text").attr("x", 691).attr("y", 840).attr("text-anchor", "end").attr("font-size", 20)
  .attr("textLength", 145).attr("lengthAdjust", "spacingAndGlyphs");
xl.append("tspan").text("(x");
xl.append("tspan").attr("font-size", 12).attr("dy", 3).attr("font-weight", "bold").text("1");
xl.append("tspan").attr("dy", -3).text("+x");
xl.append("tspan").attr("font-size", 12).attr("dy", 3).attr("font-weight", "bold").text("2");
xl.append("tspan").attr("dy", -3).text(")/2 (cm)");
</script>
</body></html>
